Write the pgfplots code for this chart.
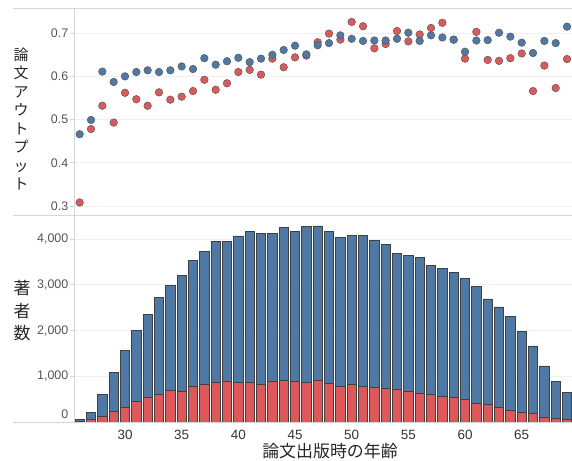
\documentclass[border=0pt]{standalone}
\usepackage{fontspec}
\setmainfont{Liberation Sans}
\newfontfamily\jp{Noto Sans CJK JP}
\usepackage{pgfplots}
\usepackage{pgfplotstable}
\pgfplotsset{compat=1.18}
\definecolor{tblue}{HTML}{4E79A7}
\definecolor{tred}{HTML}{E15759}
\definecolor{tickgray}{HTML}{555555}
\definecolor{xtickc}{HTML}{333333}
\definecolor{gridc}{HTML}{F0F0F0}
\definecolor{linec}{HTML}{D6D6D6}

\pgfplotstableread{
age total female
26 66 20
27 212 50
28 606 131
29 1080 226
30 1569 328
31 2007 445
32 2350 547
33 2730 606
34 2993 686
35 3212 672
36 3540 781
37 3723 825
38 3956 861
39 3942 898
40 4066 861
41 4168 876
42 4117 825
43 4131 883
44 4255 905
45 4161 883
46 4277 861
47 4285 905
48 4161 839
49 4029 788
50 4073 832
51 4073 788
52 3971 766
53 3876 737
54 3679 723
55 3650 679
56 3606 628
57 3423 599
58 3358 555
59 3277 540
60 3139 504
61 2956 409
62 2693 380
63 2518 321
64 2314 255
65 1978 212
66 1664 182
67 1226 109
68 891 88
69 657 66
}\counts

\pgfplotstableread{
age blue red
26 0.466 0.308
27 0.499 0.478
28 0.611 0.532
29 0.587 0.493
30 0.600 0.562
31 0.610 0.547
32 0.614 0.532
33 0.610 0.563
34 0.614 0.546
35 0.623 0.553
36 0.617 0.566
37 0.642 0.592
38 0.627 0.569
39 0.635 0.584
40 0.643 0.610
41 0.633 0.615
42 0.641 0.604
43 0.650 0.641
44 0.661 0.621
45 0.671 0.644
46 0.651 0.648
47 0.672 0.679
48 0.677 0.699
49 0.695 0.685
50 0.687 0.726
51 0.682 0.716
52 0.683 0.665
53 0.683 0.675
54 0.687 0.705
55 0.701 0.681
56 0.682 0.697
57 0.695 0.712
58 0.690 0.724
59 0.685 0.685
60 0.657 0.641
61 0.683 0.703
62 0.684 0.638
63 0.701 0.636
64 0.692 0.642
65 0.678 0.653
66 0.654 0.566
67 0.682 0.625
68 0.677 0.573
69 0.715 0.640
}\output

\begin{document}
\begin{tikzpicture}[x=1bp,y=1bp]
\path (0,0) rectangle (572,461);
\begin{pgfinterruptboundingbox}
\pgfplotsset{
  common/.style={
    scale only axis, width=498bp,
    xmin=25.5, xmax=69.44,
    axis y line*=left,
    y axis line style={linec, line width=0.8bp, -},
    ymajorgrids, grid style={gridc, line width=0.8bp},
    tick align=outside, major tick length=4bp,
    ytick style={linec, line width=0.8bp},
    yticklabel style={font=\fontsize{12.5}{14}\selectfont, text=tickgray, inner sep=1.5bp},
    /pgf/number format/assume math mode=true,
    clip=false,
  }
}
% top panel
\begin{axis}[common, at={(74bp,246bp)}, anchor=south west, height=206bp,
  axis x line=none,
  ymin=0.279, ymax=0.756,
  ytick={0.3,0.4,0.5,0.6,0.7},
  /pgf/number format/fixed, /pgf/number format/fixed zerofill, /pgf/number format/precision=1,
]
\addplot[only marks, mark=*, mark size=3.8bp, mark options={fill=tred, draw=black!65, line width=0.5bp}] table[x=age, y=red] {\output};
\addplot[only marks, mark=*, mark size=3.8bp, mark options={fill=tblue, draw=black!65, line width=0.5bp}] table[x=age, y=blue] {\output};
\end{axis}
% bottom panel
\begin{axis}[common, at={(74bp,38bp)}, anchor=south west, height=208bp,
  axis x line*=bottom, x axis line style={draw=none},
  ymin=-20, ymax=4525,
  ytick={1000,2000,3000,4000},
  extra y ticks={0},
  extra y tick style={grid=none, yticklabel style={yshift=8bp}},
  /pgf/number format/1000 sep={,},
  xtick={30,35,...,65},
  xtick style={draw=none},
  xticklabel style={font=\fontsize{13.5}{15}\selectfont, text=xtickc, inner sep=0pt, anchor=north, yshift=-3bp},
]
\addplot[ybar, bar width=0.82, bar shift=0pt, fill=tblue, draw=black!75, line width=0.6bp] table[x=age, y=total] {\counts};
\addplot[ybar, bar width=0.82, bar shift=0pt, fill=tred, draw=black!75, line width=0.6bp] table[x=age, y=female] {\counts};
\end{axis}
% pane dividers
\draw[linec, line width=1bp] (13,452) -- (572,452);
\draw[linec, line width=1bp] (13,245.5) -- (572,245.5);
\draw[linec, line width=1bp] (13,38) -- (572,38);
% labels
\node[align=center, font=\jp\fontsize{15}{18.5}\selectfont, text=black!85] at (21,342) {論\\文\\ア\\ウ\\ト\\プ\\ッ\\ト};
\node[align=center, font=\jp\fontsize{17}{22.5}\selectfont, text=black!85] at (22,150) {著\\者\\数};
\node[anchor=base, inner sep=0pt, font=\jp\fontsize{17}{19}\selectfont, text=black!85] at (330,3) {論文出版時の年齢};
\end{pgfinterruptboundingbox}
\end{tikzpicture}
\end{document}
